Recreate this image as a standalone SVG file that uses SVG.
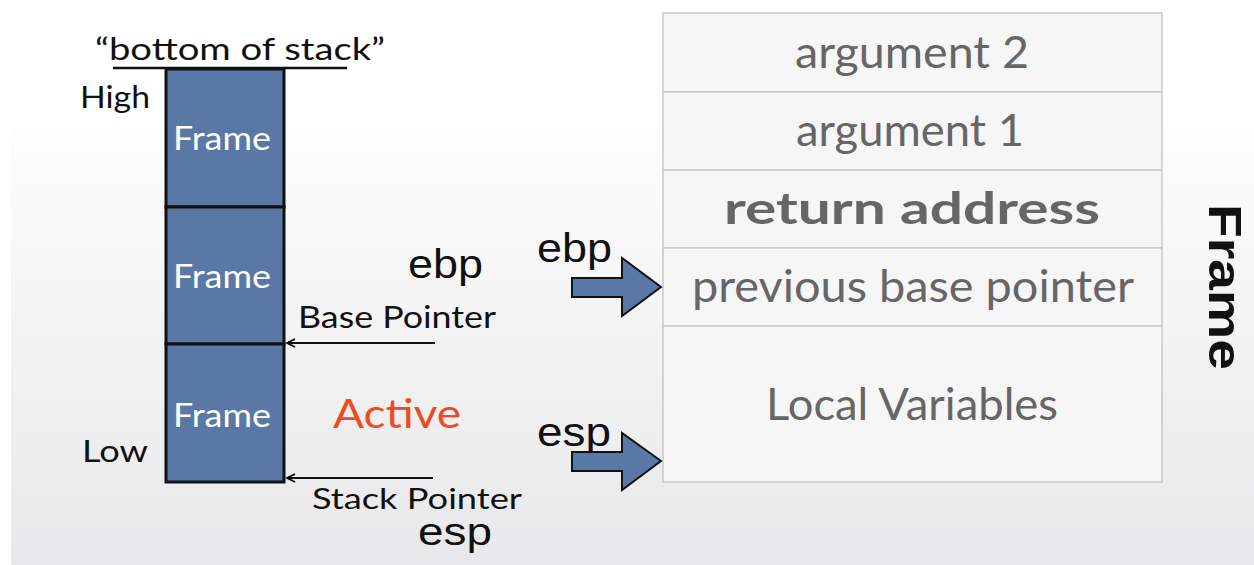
<svg xmlns="http://www.w3.org/2000/svg" width="1254" height="565" viewBox="0 0 1254 565">
  <defs>
    <linearGradient id="bg" x1="0" y1="0" x2="0" y2="1">
      <stop offset="0" stop-color="#fdfdfd"/>
      <stop offset="1" stop-color="#e8e8ea"/>
    </linearGradient>
    <!-- open arrowhead; tip sits at the line end -->
    <marker id="head" viewBox="0 0 10 10" refX="9" refY="5" markerWidth="10" markerHeight="10" markerUnits="userSpaceOnUse" orient="auto">
      <path d="M1,1 L9,5 L1,9" fill="none" stroke="#000" stroke-width="1.8"/>
    </marker>
    <style>
      .gill { font-family: Lato, "Noto Sans", "Liberation Sans", sans-serif; }
      .helv { font-family: "Liberation Sans", Arial, sans-serif; }
      .frame { fill: #5a78a5; stroke: #111; stroke-width: 3; }
      .frame-label { fill: #fff; font-size: 32px; }
      .black { fill: #111; }
      .cell { fill: #f6f6f7; stroke: #c9c9c9; stroke-width: 1.5; }
      .cell-text { fill: #666; font-size: 44px; text-anchor: middle; }
      .block-arrow { fill: #5a78a5; stroke: #111; stroke-width: 2; stroke-linejoin: miter; }
      .ptr { stroke: #111; stroke-width: 2; fill: none; }
    </style>
  </defs>

  <!-- page background -->
  <rect x="0" y="0" width="1254" height="565" fill="#ffffff"/>
  <rect x="11" y="128" width="1243" height="437" fill="url(#bg)"/>

  <!-- left: call stack -->
  <g id="stack-title">
    <text class="gill black" x="95" y="60" font-size="31" textLength="290" lengthAdjust="spacingAndGlyphs">“bottom of stack”</text>
    <line x1="113" y1="68" x2="347" y2="68" stroke="#111" stroke-width="2.5"/>
  </g>
  <g id="label-high"><text class="gill black" x="80" y="108" font-size="31" textLength="70" lengthAdjust="spacingAndGlyphs">High</text></g>
  <g id="label-low"><text class="gill black" x="82" y="462" font-size="31" textLength="66" lengthAdjust="spacingAndGlyphs">Low</text></g>

  <g id="frame-1">
    <rect class="frame" x="166" y="69" width="118" height="138"/>
    <text class="gill frame-label" x="173" y="150" textLength="98" lengthAdjust="spacingAndGlyphs">Frame</text>
  </g>
  <g id="frame-2">
    <rect class="frame" x="166" y="207" width="118" height="137"/>
    <text class="gill frame-label" x="173" y="288" textLength="98" lengthAdjust="spacingAndGlyphs">Frame</text>
  </g>
  <g id="frame-3">
    <rect class="frame" x="166" y="344" width="118" height="138"/>
    <text class="gill frame-label" x="173" y="427" textLength="98" lengthAdjust="spacingAndGlyphs">Frame</text>
  </g>

  <g id="label-ebp-left"><text class="helv black" x="408" y="278" font-size="40" textLength="75" lengthAdjust="spacingAndGlyphs">ebp</text></g>
  <g id="label-base-pointer"><text class="gill black" x="298" y="328" font-size="30" textLength="198" lengthAdjust="spacingAndGlyphs">Base Pointer</text></g>
  <g id="label-active"><text class="gill" x="333" y="428" font-size="40" fill="#f04a23" textLength="128" lengthAdjust="spacingAndGlyphs">Active</text></g>
  <g id="label-stack-pointer"><text class="gill black" x="312" y="509" font-size="29" textLength="210" lengthAdjust="spacingAndGlyphs">Stack Pointer</text></g>
  <g id="label-esp-left"><text class="helv black" x="418" y="545" font-size="38" textLength="74" lengthAdjust="spacingAndGlyphs">esp</text></g>

  <!-- right: frame layout -->
  <g id="cell-argument-2">
    <rect class="cell" x="663" y="13" width="499" height="79"/>
    <text class="gill cell-text" x="912" y="68" textLength="234" lengthAdjust="spacingAndGlyphs">argument 2</text>
  </g>
  <g id="cell-argument-1">
    <rect class="cell" x="663" y="92" width="499" height="78"/>
    <text class="gill cell-text" x="910" y="146" textLength="228" lengthAdjust="spacingAndGlyphs">argument 1</text>
  </g>
  <g id="cell-return-address">
    <rect class="cell" x="663" y="170" width="499" height="78"/>
    <text class="gill cell-text" x="912" y="224" font-weight="bold" textLength="376" lengthAdjust="spacingAndGlyphs">return address</text>
  </g>
  <g id="cell-previous-base-pointer">
    <rect class="cell" x="663" y="248" width="499" height="78"/>
    <text class="gill cell-text" x="913" y="302" textLength="442" lengthAdjust="spacingAndGlyphs">previous base pointer</text>
  </g>
  <g id="cell-local-variables">
    <rect class="cell" x="663" y="326" width="499" height="156"/>
    <text class="gill cell-text" x="912" y="420" textLength="292" lengthAdjust="spacingAndGlyphs">Local Variables</text>
  </g>

  <g id="label-frame-vertical">
    <text class="helv black" transform="translate(1209 287) rotate(90)" font-size="46" font-weight="bold" text-anchor="middle" textLength="166" lengthAdjust="spacingAndGlyphs">Frame</text>
  </g>

  <g id="label-ebp-right"><text class="helv black" x="537" y="262" font-size="40" textLength="75" lengthAdjust="spacingAndGlyphs">ebp</text></g>
  <g id="label-esp-right"><text class="helv black" x="537" y="446" font-size="40" textLength="74" lengthAdjust="spacingAndGlyphs">esp</text></g>

  <!-- connectors -->
  <g id="connectors">
    <line class="ptr" x1="435" y1="343" x2="287" y2="343" marker-end="url(#head)"/>
    <line class="ptr" x1="433" y1="478" x2="287" y2="478" marker-end="url(#head)"/>
    <path class="block-arrow" d="M572,278 L622,278 L622,258 L661,287 L622,316 L622,297 L572,297 Z"/>
    <path class="block-arrow" d="M572,452 L622,452 L622,433 L661,461 L622,490 L622,471 L572,471 Z"/>
  </g>
</svg>
